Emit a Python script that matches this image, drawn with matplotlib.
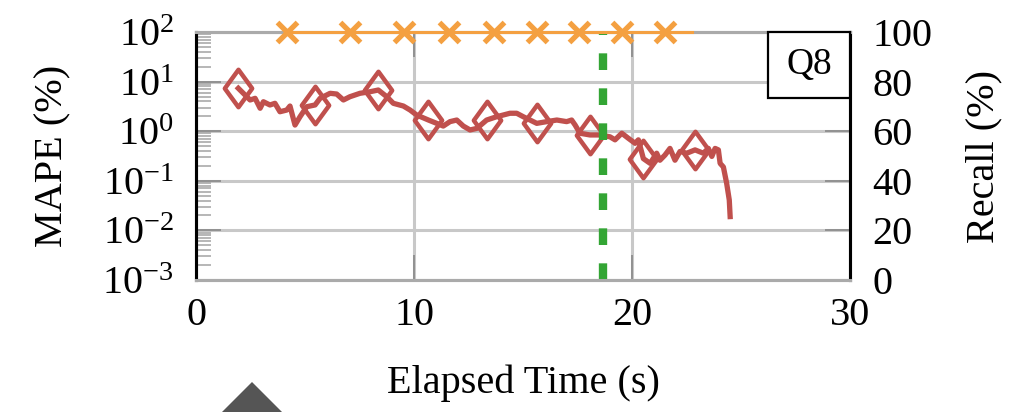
import matplotlib
matplotlib.use("Agg")
import matplotlib.pyplot as plt
from matplotlib.patches import Rectangle, Polygon
from matplotlib.path import Path
from matplotlib.ticker import LogLocator, NullFormatter

plt.rcParams['font.family'] = ['Liberation Serif', 'DejaVu Serif']
plt.rcParams['mathtext.fontset'] = 'stix'

# MAPE trace (elapsed time s, MAPE %)
mape_t = [1.94, 2.48, 2.71, 2.94, 3.09, 3.39, 3.62, 3.85, 4.16, 4.31, 4.54, 4.77, 5.08, 5.46,
          5.69, 6.15, 6.45, 6.76, 7.06, 7.52, 7.98, 8.36, 8.75, 9.05, 9.51, 9.82, 10.12, 10.66,
          11.04, 11.34, 11.65, 11.96, 12.26, 12.57, 12.88, 13.33, 13.79, 14.40, 14.71, 15.01,
          15.63, 16.09, 16.55, 17.00, 17.23, 17.39, 17.61, 18.07, 18.53, 18.99, 19.22, 19.53,
          19.83, 20.14, 20.29, 20.52, 20.83, 21.13, 21.28, 21.51, 21.74, 21.97, 22.20, 22.51,
          22.89, 23.27, 23.50, 23.66, 23.81, 23.96, 24.04, 24.19, 24.34, 24.46, 24.50]
mape_v = [7.33, 4.26, 4.60, 2.90, 3.93, 3.38, 3.65, 2.47, 2.67, 3.22, 1.33, 1.96, 3.12, 3.38,
          4.60, 5.81, 5.62, 4.26, 4.96, 5.81, 6.25, 6.77, 4.96, 3.65, 3.22, 2.67, 2.12, 1.68,
          1.44, 1.27, 1.56, 1.68, 1.27, 1.06, 1.14, 1.68, 1.96, 2.30, 2.30, 1.96,
          1.44, 1.56, 1.68, 1.56, 1.68, 1.33, 0.91, 0.84, 0.84, 0.77, 0.67, 0.91,
          0.72, 0.57, 0.67, 0.28, 0.225, 0.36, 0.26, 0.33, 0.45, 0.26, 0.39, 0.36,
          0.42, 0.36, 0.45, 0.31, 0.45, 0.42, 0.225, 0.19, 0.089, 0.041, 0.019]
mape_marks = [0, 13, 21, 27, 35, 40, 47, 55, 64]

# Recall trace
recall_t = [4.17, 7.06, 9.54, 11.6, 13.67, 15.64, 17.57, 19.54, 21.5, 22.75]
recall_v = [100, 100, 100, 100, 100, 100, 100, 100, 100, 100]
recall_marks = [0, 1, 2, 3, 4, 5, 6, 7, 8]

cutoff_t = 18.67
query = "Q8"

# diamond a bit wider than matplotlib's thin 'd'
diamond = Path([(0, 1), (0.73, 0), (0, -1), (-0.73, 0), (0, 1)], closed=True)

fig = plt.figure(figsize=(10.11, 4.12), dpi=100)
ax = fig.add_axes([0.1939, 0.3204, 0.6469, 0.6019])
ax2 = ax.twinx()

fs = 29
grid_c = '#c8c8c8'

ax.set_yscale('log')
ax.set_ylim(1e-3, 1e2)
ax.set_xlim(0, 30)
ax.set_xticks([0, 10, 20, 30])
ax.set_yticks([1e-3, 1e-2, 1e-1, 1e0, 1e1, 1e2])
ax.yaxis.set_minor_locator(LogLocator(base=10, subs=range(2, 10), numticks=20))
ax.yaxis.set_minor_formatter(NullFormatter())
ax.grid(True, which='major', color=grid_c, lw=2.2)
ax.set_axisbelow(True)
ax.tick_params(axis='both', which='major', direction='in', length=18, width=1.2,
               color='#888888', labelsize=fs, top=True)
ax.tick_params(axis='y', which='minor', direction='in', length=11, width=1.2, color='#aaaaaa')
ax.tick_params(axis='x', pad=12)
ax.tick_params(axis='y', pad=16)

ax.plot(mape_t, mape_v, color='#c0504d', lw=3.8, marker=diamond, markevery=mape_marks,
        markersize=27, mfc='none', mec='#c0504d', mew=3.2, zorder=3)
ax.axvline(cutoff_t, color='#33a534', lw=6, dashes=(2, 2.2), zorder=4)

ax2.set_ylim(0, 100)
ax2.set_yticks([0, 20, 40, 60, 80, 100])
ax2.tick_params(axis='y', direction='in', length=18, width=1.2, color='#888888',
                labelsize=fs, pad=16)
ax2.plot(recall_t, recall_v, color='#f4a041', lw=2.2, marker='x', markevery=recall_marks,
         markersize=14, mew=3.8, clip_on=False, zorder=5)

for a in (ax, ax2):
    a.spines['top'].set_color('#aaaaaa')
    a.spines['bottom'].set_color('#aaaaaa')
    a.spines['left'].set_color('black')
    a.spines['right'].set_color('black')
    for s in a.spines.values():
        s.set_linewidth(2.2)

ax.set_ylabel('MAPE (%)', fontsize=fs, labelpad=22)
ax2.set_ylabel('Recall (%)', fontsize=fs, labelpad=24)
ax.set_xlabel('Elapsed Time (s)', fontsize=fs, labelpad=22)

ax2.add_patch(Rectangle((0.875, 0.734), 0.125, 0.266, transform=ax2.transAxes,
                        fc='white', ec='black', lw=1.6, zorder=6, clip_on=False))
ax2.text(0.9375, 0.867, query, transform=ax2.transAxes, ha='center', va='center',
         fontsize=27, zorder=7)

fig.patches.append(Polygon([[252 / 1011, 1 - 382 / 412], [222 / 1011, 0], [282 / 1011, 0]],
                           closed=True, transform=fig.transFigure, fc='#555555', ec='none'))

fig.savefig('out.png', dpi=100)
